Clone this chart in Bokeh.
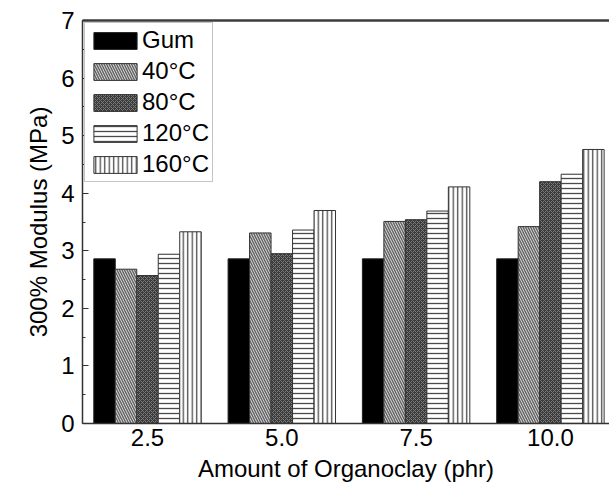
from bokeh.plotting import figure
from bokeh.models import (Range1d, LinearAxis, FixedTicker, SingleIntervalTicker,
                          Legend, LegendItem)
from bokeh.embed import file_html
from bokeh.resources import INLINE

# Organoclay loading (phr) and 300% modulus (MPa) per curing temperature
amounts = [2.5, 5.0, 7.5, 10.0]
tick_labels = ["2.5", "5.0", "7.5", "10.0"]
series_names = ["Gum", "40°C", "80°C", "120°C", "160°C"]
gum = [2.86, 2.86, 2.86, 2.86]
t40 = [2.68, 3.31, 3.51, 3.42]
t80 = [2.57, 2.95, 3.54, 4.20]
t120 = [2.94, 3.36, 3.69, 4.33]
t160 = [3.33, 3.70, 4.11, 4.76]
series_values = [gum, t40, t80, t120, t160]

FONT = "Liberation Sans"
BAR_W = 0.4
offsets = [-0.8, -0.4, 0.0, 0.4, 0.8]

styles = [
    dict(fill_color="black", line_color="#222222"),
    dict(fill_color="#e2e2e2", hatch_pattern="\\", hatch_color="#666666",
         hatch_scale=5, hatch_weight=1.5, line_color="#333333"),
    dict(fill_color="#3a3a3a", hatch_pattern="x", hatch_color="#7a7a7a",
         hatch_scale=4, hatch_weight=1.0, line_color="#333333"),
    dict(fill_color="white", hatch_pattern="-", hatch_color="#4a4a4a",
         hatch_scale=5, hatch_weight=1.3, line_color="#333333"),
    dict(fill_color="white", hatch_pattern="|", hatch_color="#4a4a4a",
         hatch_scale=4.5, hatch_weight=1.3, line_color="#333333"),
]

p = figure(width=609, height=490, output_backend="svg", toolbar_location=None,
           x_range=Range1d(1.29, 11.1), y_range=Range1d(0, 7),
           min_border_left=82, min_border_right=0, min_border_top=20,
           min_border_bottom=67)
p.xgrid.visible = False
p.ygrid.visible = False
p.outline_line_color = None
p.background_fill_color = "white"
p.border_fill_color = "white"

items = []
for name, vals, off, st in zip(series_names, series_values, offsets, styles):
    xs = [a + off for a in amounts]
    r = p.vbar(x=xs, top=vals, width=BAR_W, bottom=0, line_width=1, **st)
    items.append(LegendItem(label=name, renderers=[r]))

# x axis
xa = p.xaxis[0]
xa.ticker = FixedTicker(ticks=amounts)
xa.major_label_overrides = dict(zip(amounts, tick_labels))
xa.axis_label = "Amount of Organoclay (phr)"
xa.major_tick_in = 0
xa.major_tick_out = 0
xa.minor_tick_in = 0
xa.minor_tick_out = 0
xa.major_label_standoff = 5
xa.axis_label_standoff = 6

# y axis
ya = p.yaxis[0]
ya.ticker = SingleIntervalTicker(interval=1, num_minor_ticks=2)
ya.axis_label = "300% Modulus (MPa)"
ya.major_tick_in = 6
ya.major_tick_out = 0
ya.minor_tick_in = 3
ya.minor_tick_out = 0
ya.major_label_standoff = 8
ya.axis_label_standoff = 6

for ax in (xa, ya):
    ax.axis_line_color = "#333333"
    ax.axis_line_width = 1.5
    ax.major_tick_line_color = "#333333"
    ax.minor_tick_line_color = "#333333"
    ax.major_label_text_font = FONT
    ax.major_label_text_font_size = "24px"
    ax.major_label_text_color = "black"
    ax.axis_label_text_font = FONT
    ax.axis_label_text_font_size = "24px"
    ax.axis_label_text_font_style = "normal"
    ax.axis_label_text_color = "black"

# top frame line
top = LinearAxis(ticker=FixedTicker(ticks=[]), major_tick_in=0, major_tick_out=0,
                 minor_tick_in=0, minor_tick_out=0, major_label_text_font_size="0px",
                 major_label_standoff=0, axis_line_color="#3c3c3c", axis_line_width=2.5)
p.add_layout(top, "above")

legend = Legend(items=items, location="top_left", margin=2, padding=3, spacing=3,
                glyph_width=54, glyph_height=21, label_standoff=0,
                label_text_font=FONT, label_text_font_size="24px",
                label_text_color="black", border_line_color="#8a8a8a",
                border_line_width=1, background_fill_color="white",
                background_fill_alpha=1.0)
p.add_layout(legend, "center")

open("out.html", "w").write(file_html(p, INLINE))
